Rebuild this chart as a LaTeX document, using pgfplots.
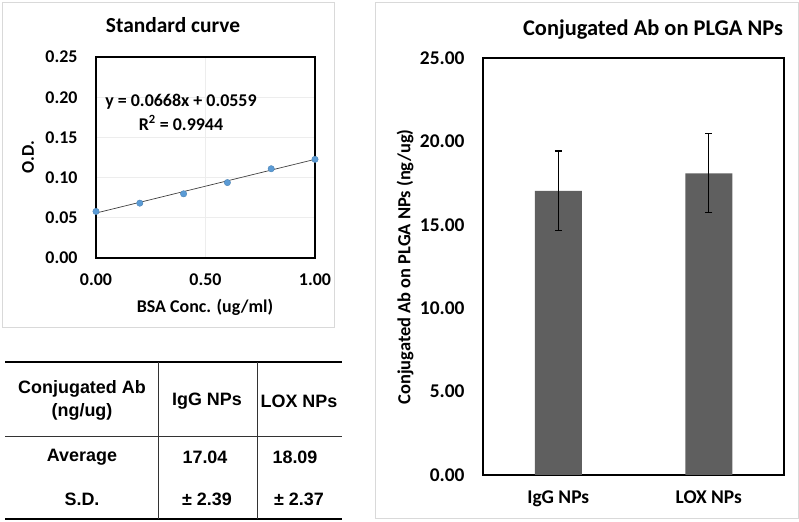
\documentclass[border=0pt]{standalone}
\usepackage{pgfplots}
\pgfplotsset{compat=1.18}
\usepackage{fontspec}
\setmainfont{Carlito}
\newfontfamily\arial{Liberation Sans}
\definecolor{xlblue}{HTML}{5B9BD5}
\definecolor{bargray}{HTML}{5F5F5F}
\definecolor{panelgray}{HTML}{D9D9D9}
\definecolor{gridgray}{HTML}{EDEDED}
\begin{document}
\begin{tikzpicture}[x=1bp,y=1bp]
\path[use as bounding box] (0,0) rectangle (799,522);
\coordinate (scSW) at (96,{522-258});
\coordinate (bcSW) at (483,{522-475});
% panel borders
\draw[panelgray,line width=0.8bp] (2,{522-2}) rectangle (334,{522-327});
\draw[panelgray,line width=0.8bp] (375,{522-2}) rectangle (798,{522-518});

% ---- standard curve ----
\begin{axis}[
  at={(scSW)}, anchor=south west,
  scale only axis, width=219bp, height=201bp,
  xmin=0, xmax=1, ymin=0, ymax=0.25,
  xtick={0,0.5,1}, ytick={0,0.05,...,0.25},
  major tick length=0,
  axis line style={black,line width=1.3bp},
  grid=major, major grid style={gridgray,line width=0.6bp},
  /pgf/number format/assume math mode=true,
  /pgf/number format/.cd, fixed, fixed zerofill, precision=2, /pgfplots/.cd,
  tick label style={font=\bfseries\fontsize{18}{18}\selectfont},
  yticklabel style={xshift=-15bp},
  xticklabel style={yshift=-12bp},
  scaled y ticks=false,
  clip=false,
]
\addplot[black!75, line width=0.7bp] coordinates {(0,0.0559) (1,0.1227)};
\addplot[only marks, mark=*, mark size=3.2bp, mark options={draw=xlblue!85!black, fill=xlblue, line width=0.4bp}] coordinates {
(0,0.0579) (0.2,0.0682) (0.4,0.0798) (0.6,0.0938) (0.8,0.111) (1.0,0.1227)};
\end{axis}
\node[font=\bfseries\fontsize{21.5}{21.5}\selectfont] at (173,{522-25}) {Standard curve};
\node[font=\bfseries\fontsize{18}{18}\selectfont, rotate=90] at (28,{522-157}) {O.D.};
\node[font=\bfseries\fontsize{18}{18}\selectfont] at (205,{522-307}) {BSA Conc. (ug/ml)};
\node[font=\bfseries\fontsize{18}{18}\selectfont] at (181,{522-102}) {y = 0.0668x + 0.0559};
\node[font=\bfseries\fontsize{18}{18}\selectfont] at (181,{522-123}) {R\textsuperscript{2} = 0.9944};

% ---- table ----
\draw[black,line width=2.5bp] (5,{522-362}) -- (342,{522-362});
\draw[black,line width=2.5bp] (5,{522-519}) -- (342,{522-519});
\draw[black!80,line width=0.9bp] (5,{522-436}) -- (342,{522-436});
\draw[black!80,line width=0.9bp] (158,{522-362}) -- (158,{522-519});
\draw[black!80,line width=0.9bp] (257,{522-362}) -- (257,{522-519});
\begin{scope}[every node/.style={font=\arial\bfseries\fontsize{18}{18}\selectfont}]
\node at (82,{522-389}) {Conjugated Ab};
\node at (82,{522-412}) {(ng/ug)};
\node at (207,{522-401}) {IgG NPs};
\node at (299,{522-401}) {LOX NPs};
\node at (82,{522-457}) {Average};
\node at (205,{522-457}) {17.04};
\node at (295,{522-457}) {18.09};
\node at (82,{522-499}) {S.D.};
\node at (207,{522-499}) {± 2.39};
\node at (299,{522-499}) {± 2.37};
\end{scope}

% ---- bar chart ----
\begin{axis}[
  at={(bcSW)}, anchor=south west,
  scale only axis, width=301bp, height=417bp,
  xmin=-0.5, xmax=1.5, ymin=0, ymax=25,
  xtick={0,1}, xticklabels={IgG NPs, LOX NPs},
  ytick={0,5,...,25},
  major tick length=0,
  axis line style={black,line width=1.3bp},
  /pgf/number format/assume math mode=true,
  yticklabel={\pgfmathprintnumber[fixed,fixed zerofill,precision=2]{\tick}},
  tick label style={font=\bfseries\fontsize{19.5}{19.5}\selectfont},
  yticklabel style={xshift=-15bp},
  xticklabel style={yshift=-12bp},
  clip=false,
]
\addplot[ybar, bar width=47bp, fill=bargray, draw=none,
  error bars/.cd, y dir=both, y explicit,
  error bar style={black, line width=1.3bp},
  error mark options={rotate=90, mark size=3.5bp, line width=1.3bp, black}]
  coordinates {(0,17.04) +- (0,2.39) (1,18.09) +- (0,2.37)};
\end{axis}
\node[font=\bfseries\fontsize{22.5}{22.5}\selectfont] at (653,{522-30}) {Conjugated Ab on PLGA NPs};
\node[font=\bfseries\fontsize{18.5}{18.5}\selectfont, rotate=90] at (405,{522-267}) {Conjugated Ab on PLGA NPs (ng/ug)};
\end{tikzpicture}
\end{document}
